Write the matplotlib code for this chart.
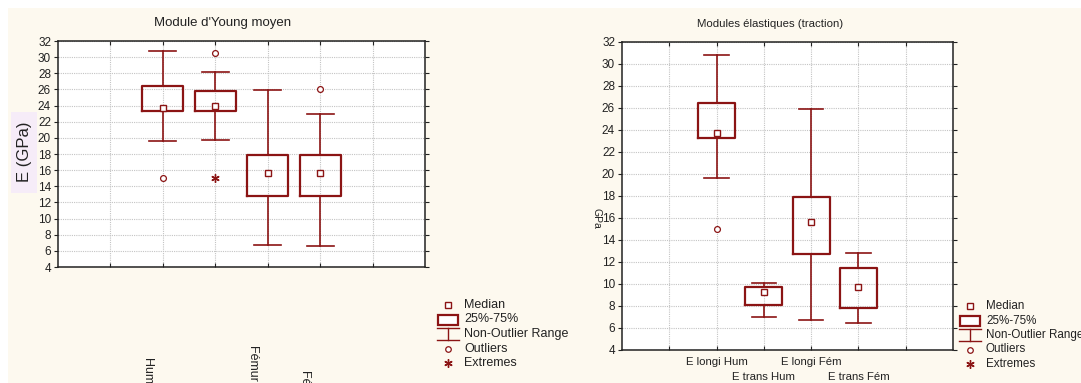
import matplotlib
matplotlib.use("Agg")
import matplotlib.pyplot as plt
from matplotlib.lines import Line2D
from matplotlib.patches import Rectangle
import matplotlib.transforms as mtransforms

plt.rcParams['font.family'] = ['Liberation Sans', 'DejaVu Sans']

# ---------------- data ----------------
positions = [2, 3, 4, 5]
yticks = list(range(4, 33, 2))

# Left chart: Module d'Young moyen
left_labels = ["Humérus frais", "Humérus traité", "Fémur traité", "Fémur frais"]
left_q1 = [23.3, 23.3, 12.8, 12.8]
left_q3 = [26.45, 25.85, 17.9, 17.9]
left_med = [23.65, 23.95, 15.6, 15.6]
left_lo = [19.6, 19.7, 6.7, 6.6]
left_hi = [30.8, 28.1, 25.9, 23.0]
left_outliers = [[15.0], [30.5], [], [26.0]]
left_extremes = [[], [15.0], [], []]

# Right chart: Modules élastiques (traction)
right_labels = ["E longi Hum", "E trans Hum", "E longi Fém", "E trans Fém"]
right_q1 = [23.25, 8.1, 12.7, 7.8]
right_q3 = [26.45, 9.75, 17.95, 11.5]
right_med = [23.7, 9.3, 15.6, 9.7]
right_lo = [19.6, 7.0, 6.7, 6.5]
right_hi = [30.8, 10.1, 25.9, 12.8]
right_outliers = [[15.0], [], [], []]
right_extremes = [[], [], [], []]

legend_labels = ["Median", "25%-75%", "Non-Outlier Range", "Outliers", "Extremes"]

# ---------------- style ----------------
RED = '#8b1414'
CREAM = '#fdf9ef'
TXT = '#222222'
W, H = 1081, 383

fig = plt.figure(figsize=(W / 100, H / 100), dpi=100, facecolor='white')


def fx(px):
    return px / W


def fy(py):
    return 1 - py / H


fig.patches.append(Rectangle((fx(8), 0), 1 - fx(8), fy(8), transform=fig.transFigure,
                             facecolor=CREAM, edgecolor='none', zorder=-10))


def draw_box(ax, q1, q3, med, lo, hi, outl, extr):
    stats = []
    for i in range(len(q1)):
        stats.append(dict(med=med[i], q1=q1[i], q3=q3[i], whislo=lo[i], whishi=hi[i], fliers=[]))
    ax.bxp(stats, positions=positions, widths=0.78, capwidths=0.52, showfliers=False,
           boxprops=dict(color=RED, linewidth=1.6),
           whiskerprops=dict(color=RED, linewidth=1.2),
           capprops=dict(color=RED, linewidth=1.2),
           medianprops=dict(linewidth=0), manage_ticks=False, zorder=3)
    ax.plot(positions, med, 's', ms=5, mfc='white', mec=RED, mew=1.0, zorder=4)
    for p, vals in zip(positions, outl):
        if vals:
            ax.plot([p] * len(vals), vals, 'o', ms=4.2, mfc='white', mec=RED, mew=0.9, zorder=4)
    for p, vals in zip(positions, extr):
        if vals:
            ax.plot([p] * len(vals), vals, marker=(6, 2, 0), ls='none', ms=6, mec=RED, mew=1.0, zorder=4)


def style_axes(ax):
    ax.set_facecolor('white')
    ax.set_xlim(0, 7)
    ax.set_ylim(4, 32)
    ax.set_yticks(yticks)
    ax.set_xticks(range(1, 7))
    ax.set_xticklabels([])
    ax.grid(True, color='#c4c4c4', linestyle=(0, (1, 1)), linewidth=0.8, zorder=0)
    ax.set_axisbelow(True)
    for s in ax.spines.values():
        s.set_color(TXT)
        s.set_linewidth(1.1)
    ax.tick_params(axis='y', which='both', direction='out', length=3, width=0.8,
                   labelsize=8.5, colors=TXT, pad=2, right=True)
    ax.tick_params(axis='x', which='both', direction='in', length=3, width=0.8,
                   labelsize=8, colors=TXT, top=True)


# ---------- left axes ----------
axL = fig.add_axes([fx(58), fy(267), fx(425) - fx(58), fy(41) - fy(267)])
style_axes(axL)
draw_box(axL, left_q1, left_q3, left_med, left_lo, left_hi, left_outliers, left_extremes)
fig.text(fx(223), fy(23), "Module d'Young moyen", ha='center', va='center', fontsize=9.5, color=TXT)
fig.patches.append(Rectangle((fx(11), fy(193)), fx(37) - fx(11), fy(112) - fy(193),
                             transform=fig.transFigure, facecolor='#f6ecf8', edgecolor='none', zorder=-5))
fig.text(fx(24), fy(152), "E (GPa)", rotation=90, ha='center', va='center', fontsize=12, color=TXT)

# rotated category labels (they run off the bottom edge, as in the original)
label_tops = [-0.398, -0.56, -0.345, -0.456]
blend = mtransforms.blended_transform_factory(axL.transData, axL.transAxes)
offs = mtransforms.offset_copy(blend, fig=fig, x=-15, y=0, units='dots')
for p, lab, t in zip(positions, left_labels, label_tops):
    axL.text(p, t, lab, rotation=270, ha='center', va='top', fontsize=9,
             color=TXT, transform=offs, clip_on=False)

# ---------- right axes ----------
axR = fig.add_axes([fx(622), fy(350), fx(953) - fx(622), fy(42) - fy(350)])
style_axes(axR)
draw_box(axR, right_q1, right_q3, right_med, right_lo, right_hi, right_outliers, right_extremes)
blendR = mtransforms.blended_transform_factory(axR.transData, axR.transAxes)
row1 = mtransforms.offset_copy(blendR, fig=fig, x=0, y=-12, units='dots')
row2 = mtransforms.offset_copy(blendR, fig=fig, x=0, y=-27, units='dots')
for i, (p, lab) in enumerate(zip(positions, right_labels)):
    axR.text(p, 0, lab, ha='center', va='center', fontsize=8.2, color=TXT,
             transform=row1 if i % 2 == 0 else row2, clip_on=False)
fig.text(fx(770), fy(24), "Modules élastiques (traction)", ha='center', va='center', fontsize=8.2, color=TXT)
fig.text(fx(597), fy(218), "GPa", rotation=270, ha='center', va='center', fontsize=7.5, color=TXT)


# ---------- legends ----------
def draw_legend(x0, y0, fs):
    # x0: marker centre x, y0: Median row y (pixels)
    step = 14.5
    xt = x0 + 16
    ys = [y0 + i * step for i in range(5)]
    fig.add_artist(Line2D([fx(x0)], [fy(ys[0])], marker='s', ms=4.5, mfc='white', mec=RED, mew=1.0,
                          transform=fig.transFigure))
    fig.add_artist(Rectangle((fx(x0 - 10), fy(ys[1] + 5)), fx(20), fy(0) - fy(10), transform=fig.transFigure,
                             facecolor='white', edgecolor=RED, linewidth=1.6))
    yt, yb = ys[2] - 6, ys[2] + 6
    for seg in ([(x0 - 11, yt), (x0 + 11, yt)], [(x0, yt), (x0, yb)], [(x0 - 11, yb), (x0 + 11, yb)]):
        fig.add_artist(Line2D([fx(seg[0][0]), fx(seg[1][0])], [fy(seg[0][1]), fy(seg[1][1])],
                              color=RED, lw=1.0, transform=fig.transFigure))
    fig.add_artist(Line2D([fx(x0)], [fy(ys[3])], marker='o', ms=4, mfc='white', mec=RED, mew=0.9,
                          transform=fig.transFigure))
    fig.add_artist(Line2D([fx(x0)], [fy(ys[4])], marker=(6, 2, 0), ms=6, mec=RED, mew=1.0,
                          transform=fig.transFigure))
    for y, lab in zip(ys, legend_labels):
        fig.text(fx(xt), fy(y), lab, ha='left', va='center', fontsize=fs, color=TXT)


draw_legend(448, 305, 9)
draw_legend(970, 306, 8.4)

fig.savefig('out.png', dpi=100, facecolor='white')
